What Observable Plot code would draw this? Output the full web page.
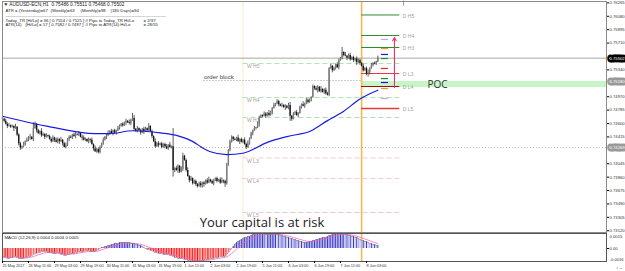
<!DOCTYPE html>
<html><head><meta charset="utf-8">
<script src="https://cdn.jsdelivr.net/npm/d3@7"></script>
<script src="https://cdn.jsdelivr.net/npm/@observablehq/plot@0.6"></script>
<style>
html,body{margin:0;padding:0;background:#fff;}
#wrap{position:relative;width:625px;height:271px;overflow:hidden;background:#fff;}
#main{position:absolute;left:0;top:0;}
#macd{position:absolute;left:0;top:232px;}
#risk{position:absolute;left:0;width:524px;text-align:center;top:213.5px;line-height:16px;font-family:"Open Sans",sans-serif;font-size:13px;color:#1a1a1a;white-space:nowrap;}
</style></head>
<body><div id="wrap"><div id="main"></div><div id="macd"></div><div id="risk">Your capital is at risk</div></div>
<script>
// ---------- DATA ----------
const firstOpenPips = 7468;
const closePips = [
7466,7463,7459,7456,7457,7455,7456,7453,7455,
7444,7432,7426,7428,
7431,7435,7437,7440,7441,7438,
7453,7459,
7450,7446,7449,7443,7445,7441,7443,7442,
7438,7435,7440,7437,7434,7438,7435,7437,
7432,7427,7430,
7438,7441,7440,7444,7442,7445,7444,7446,7441,
7440,7437,7438,7435,7438,7437,
7431,7425,7421,7424,7420,7427,
7432,7437,7441,7443,7446,
7449,7446,7450,7447,7450,
7453,7456,7459,7457,7461,7463,7461,
7460,7464,7467,
7452,7449,7453,7450,7447,7452,7449,7453,7450,7456,7449,
7442,7435,7428,7432,
7430,7432,7427,7431,7428,7425,7430,7427,7428,
7395,
7398,7395,7401,7393,7397,
7415,7409,
7395,7387,7381,7384,7377,
7380,7376,7373,7377,7374,7378,7376,7381,7378,7382,7380,7377,7381,7384,7380,7382,7378,7381,7380,
7377,
7402,7423,7434,
7441,7438,
7437,7440,7435,7438,7434,7437,
7431,7427,7432,7439,7446,
7450,7453,7454,7459,
7468,7471,7470,7473,
7470,7474,7471,7475,
7481,7485,7487,7490,
7486,
7484,7485,7482,7484,7481,7485,
7470,7466,
7473,7475,7471,7474,
7482,7486,7484,
7487,7492,7489,7493,7496,
7511,
7508,7506,7510,7504,7507,7503,7506,7501,
7499,
7536,
7539,7533,7536,7541,7537,
7547,7550,
7558,7554,
7553,7550,7554,7548,7551,7547,7549,7544,7547,7543,
7539,7533,7536,7528,7530,
7536,7540,7543,7542,7545,7550];
const wickUpDigits = "2132312141 2213132412 3121421312 2313214123 1221341213 3212131422 2131241312 1321213142 2413121321 3121423121 2314121321 3212413122 1231213412 2121341231 3212141213 2412131321 1321421312 2131213412 2312141321 1213214123 2131213213 1412312132 2131241312 13";
const wickDnDigits = "1213121412 3121212313 1312213121 2131241312 2312131214 1213413121 2121312132 3121214123 1312131412 2131213121 3121213142 1312131213 2131412121 3121213121 2131214121 3121312141 2131213121 3121412131 2131213121 3121412132 1213121312 2131213241 3121213121 21";
const spikeHighBars = [19, 47, 80, 90, 105, 111, 169, 209];
const spikeHighPips = [7461, 7449, 7474, 7460, 7453, 7419, 7493, 7565];
const spikeLowBars  = [11, 38, 59, 105, 123, 137, 150, 177, 225];
const spikeLowPips  = [7423, 7426, 7418, 7386, 7371, 7372, 7426, 7463, 7524];

const maBars = [0,19,28,57,66,80,89,97,108,118,122,128,138,148,163,175,190,200,210,220,231];
const maPips = [7470,7460,7456,7446,7446,7450,7449,7447,7443,7434,7428,7421,7417,7419,7434,7442,7450,7464,7477,7494,7506];

const macdHist = [
-8,-9,-9,-10,-10,-9,-9,-8,-8,-9,-10,-10,
-10,-10,-9,-9,-8,-8,-7,-6,-5,
-5,-4,-4,-3,-3,-3,-3,-4,-4,-4,-5,-5,-5,-4,
-5,-6,-6,-7,-7,-6,-6,-5,-5,-5,-4,-4,-3,-3,
-3,-3,-2,-2,-2,-3,-3,-3,-3,-2,-1,
0,1,1,2,2,3,3,4,4,5,5,5,6,6,6,6,6,6,6,5,5,5,4,4,3,3,2,1,0,
-1,-1,-2,-2,-3,-4,-4,-5,-5,-5,-6,-6,-6,-6,-7,-7,
-8,-9,-9,-10,-10,-10,-10,-11,-11,-12,-12,-13,-13,-13,-13,-13,-13,-12,
-12,-12,-11,-11,-11,-10,-10,-10,-9,-9,-9,-8,-8,-8,-8,-6,-4,-2,
0,2,4,6,7,8,9,10,11,11,12,12,13,14,14,15,15,15,15,15,
15,14,14,14,14,14,15,15,14,14,13,13,12,12,11,11,10,10,9,9,
8,8,7,7,6,6,6,6,7,7,8,8,9,9,10,10,11,11,11,12,
13,13,14,14,15,15,15,15,15,15,14,14,13,13,12,12,11,11,10,9,
8,8,7,7,6,5,5,4,4,3,3];

const weekNames  = ["W H5","W H4","W H3","W L3","W L4","W L5"];
const weekLevels = [0.75428,0.74959,0.74683,0.74124,0.73841,0.73372];
const dayNames   = ["D H5","D H4","D H3","D L3","D L4","D L5"];
const dayLevels  = [0.76098,0.75815,0.75649,0.75290,0.75111,0.74807];
const weekStartBar = 148, dayStartBar = 221, levelEndBar = 244.5;

const markLevels = [0.7576,0.75635,0.75553,0.75497,0.7536,0.7522,0.75166,0.75083,0.74945];
const markKinds  = ["p","o","b","g","r","g","b","o","p"];
const arrowFrom = 0.75097, arrowTo = 0.75787, arrowBar = 241.2;
const pocLow = 0.75097, pocHigh = 0.75180;
const orderBlock = 0.75194, orderBlockFrom = 124;
const supportLine = 0.74269;
const bidPrice = 0.75502;

const priceTicks = [0.76265,0.76080,0.75895,0.75710,0.75525,0.75340,0.75155,0.74970,0.74785,0.74600,0.74415,0.74230,0.74045,0.73860,0.73675,0.73490,0.73305,0.73120];
const macdTop = "0.0015", macdZero = "0.00", macdBottom = "-0.0016";
const timeTickBars = [0,16,32,48,64,80,96,112,128,144,160,176,192,208,224];
const timeTickLabels = ["25 May 2017","26 May 11:00","29 May 03:00","29 May 19:00","30 May 11:00","31 May 03:00","31 May 19:00","1 Jun 11:00","2 Jun 03:00","2 Jun 19:00","5 Jun 11:00","6 Jun 03:00","6 Jun 19:00","7 Jun 11:00","8 Jun 03:00"];

// ---------- BUILD ----------
const xMax = 371.7;
const wu = wickUpDigits.replace(/\s/g,""), wd = wickDnDigits.replace(/\s/g,"");
const candles = closePips.map((c,i)=>{
  const o = i===0 ? firstOpenPips : closePips[i-1];
  let h = Math.max(o,c) + (+wu[i] || 1);
  let l = Math.min(o,c) - (+wd[i] || 1);
  const sh = spikeHighBars.indexOf(i); if (sh>=0) h = Math.max(h, spikeHighPips[sh]);
  const sl = spikeLowBars.indexOf(i); if (sl>=0) l = Math.min(l, spikeLowPips[sl]);
  const bodyEnd = Math.abs(c-o) < 1 ? o + 1 : c;
  return {i, o:o/1e4, c:c/1e4, b:bodyEnd/1e4, h:h/1e4, l:l/1e4, up: c>=o};
});
const ma = maBars.map((b,k)=>({i:b, v:maPips[k]/1e4}));
const kindColor = {p:"#c9a3ea", o:"#f0962a", b:"#1414e6", g:"#1f8f1f", r:"#e82222"};

const FONT = "'Liberation Sans', Arial, sans-serif";
const wk = weekNames.map((n,k)=>({n, v:weekLevels[k], hi:n.includes("H")}));
const dy = dayNames.map((n,k)=>({n, v:dayLevels[k], hi:n.includes("H")}));
// right-axis ticks hidden under the price boxes (the platform draws the box over them)
const boxed = [bidPrice, pocHigh, supportLine];
const axisTicks = priceTicks.filter(t => boxed.every(b => Math.abs(t - b) > 0.0004));

const main = Plot.plot({
  width: 625, height: 233,
  marginLeft: 2, marginRight: 19, marginTop: 1, marginBottom: 1,
  x: {domain: [0, xMax], axis: null},
  y: {domain: [0.73096, 0.76284], axis: null},
  style: {background: "white", fontFamily: FONT, overflow: "visible"},
  marks: [
    Plot.rect([{x1: dayStartBar, x2: xMax, y1: pocLow, y2: pocHigh}], {x1:"x1", x2:"x2", y1:"y1", y2:"y2", fill:"#c8f5c8"}),
    Plot.ruleX([weekStartBar], {stroke:"#f3efc2", strokeWidth:1}),
    Plot.ruleX([dayStartBar], {stroke:"#f7b850", strokeWidth:1.6}),
    Plot.ruleY([bidPrice], {stroke:"#a8a8a8", strokeWidth:1}),
    Plot.ruleY([supportLine], {stroke:"#b8b8b8", strokeDasharray:"1,2"}),
    Plot.ruleY([{v:orderBlock, a:orderBlockFrom, b:dayStartBar}], {y:"v", x1:"a", x2:"b", stroke:"#9a9a9a", strokeDasharray:"1,2"}),
    Plot.text(["order block"], {x: orderBlockFrom, y: orderBlock, dy:-3, textAnchor:"start", fontSize:6, fill:"#444"}),
    // weekly pivots
    Plot.ruleY(wk, {y:"v", x1: weekStartBar, x2: levelEndBar, stroke: d=>d.hi?"#b2e2b2":"#f6caca", strokeDasharray:"5,3"}),
    Plot.text(wk, {x: weekStartBar, y:"v", text:"n", dx:4, dy:3, textAnchor:"start", fontSize:5, fill:"#a0a0a0"}),
    // daily pivots
    Plot.ruleY(dy, {y:"v", x1: dayStartBar, x2: levelEndBar, stroke: d=>d.n==="D L4"?"#b00000":(d.hi?"#2e8b2e":"#ee3535"), strokeWidth: d=>d.n==="D L5"?1.4:1}),
    Plot.text(dy, {x: levelEndBar, y:"v", text:"n", dx:3, dy:1, textAnchor:"start", fontSize:5, fill:"#a0a0a0"}),
    // small level marks
    Plot.ruleY(markLevels.map((v,k)=>({v, k:markKinds[k]})), {y:"v", x1:233.2, x2:237.5, stroke: d=>kindColor[d.k], strokeWidth:1.2, strokeDasharray: d=>d.k==="p"?"1,1":null}),
    Plot.arrow([{x:arrowBar, y1:arrowFrom, y2:arrowTo}], {x1:"x", x2:"x", y1:"y1", y2:"y2", stroke:"#e8336f", strokeWidth:1.1, headLength:5, bend:0}),
    Plot.ruleX([246.8], {y1:0.7622, y2:0.7629, stroke:"#999"}),
    // candles
    Plot.ruleX(candles, {x:"i", y1:"l", y2:"h", stroke:"#2a2a2a", strokeWidth:0.75}),
    Plot.ruleX(candles, {x:"i", y1:"o", y2:"b", stroke: d=>d.up?"#7a7a7a":"#151515", strokeWidth:1.35}),
    // moving average
    Plot.line(ma, {x:"i", y:"v", stroke:"#1a1ae0", strokeWidth:1.2, curve:"monotone-x"}),
    Plot.text(["POC"], {x: 261.5, y: (pocLow+pocHigh)/2, textAnchor:"start", fontSize:10, fill:"#333", fontFamily:"'Open Sans', sans-serif"}),
    Plot.frame({stroke:"#8a8a8a"}),
    Plot.axisY({anchor:"right", ticks: axisTicks, tickFormat: d=>d.toFixed(5), tickSize:2, tickPadding:1, fontSize:4.2, fill:"#333"}),
    Plot.text([bidPrice], {y: d=>d, frameAnchor:"right", dx:3, textAnchor:"start", text: d=>d.toFixed(5), fill:"white", stroke:"#000", strokeWidth:5, fontSize:4.2}),
    Plot.text([pocHigh, supportLine], {y: d=>d, frameAnchor:"right", dx:3, textAnchor:"start", text: d=>d.toFixed(5), fill:"white", stroke:"#999", strokeWidth:5, fontSize:4.2}),
    // header
    Plot.text(["▼ AUDUSD-ECN,H1  0.75486 0.75511 0.75468 0.75502"], {frameAnchor:"top-left", dx:1, dy:3, lineAnchor:"middle", fontSize:4.8, fill:"#222"}),
    Plot.text(["ATR = (Yesterday)=67"], {frameAnchor:"top-left", dx:3, dy:9, lineAnchor:"middle", fontSize:4.3, fill:"#222"}),
    Plot.text(["(Weekly)=63"], {frameAnchor:"top-left", dx:48, dy:9, lineAnchor:"middle", fontSize:4.3, fill:"#222"}),
    Plot.text(["(Monthly)=98"], {frameAnchor:"top-left", dx:78, dy:9, lineAnchor:"middle", fontSize:4.3, fill:"#222"}),
    Plot.text(["(180 Days)=94"], {frameAnchor:"top-left", dx:108, dy:9, lineAnchor:"middle", fontSize:4.3, fill:"#222"}),
    Plot.text(["-".repeat(112)], {frameAnchor:"top-left", dx:3, dy:14, lineAnchor:"middle", fontSize:4.3, fill:"#222"}),
    Plot.text(["Today_TR [Hi/Lo] = 36 [ 0.7554 / 0.7525 ]"], {frameAnchor:"top-left", dx:3, dy:19, lineAnchor:"middle", fontSize:4.3, fill:"#222"}),
    Plot.text(["// Pips to Today_TR Hi/Lo"], {frameAnchor:"top-left", dx:83, dy:19, lineAnchor:"middle", fontSize:4.3, fill:"#222"}),
    Plot.text(["= 2/37"], {frameAnchor:"top-left", dx:141, dy:19, lineAnchor:"middle", fontSize:4.3, fill:"#222"}),
    Plot.text(["ATR(14)"], {frameAnchor:"top-left", dx:3, dy:23.5, lineAnchor:"middle", fontSize:4.3, fill:"#222"}),
    Plot.text(["[Hi/Lo] = 57 [ 0.7582 / 0.7497 ]"], {frameAnchor:"top-left", dx:23, dy:23.5, lineAnchor:"middle", fontSize:4.3, fill:"#222"}),
    Plot.text(["// Pips to ATR(14) Hi/Lo"], {frameAnchor:"top-left", dx:83, dy:23.5, lineAnchor:"middle", fontSize:4.3, fill:"#222"}),
    Plot.text(["= 28/55"], {frameAnchor:"top-left", dx:141, dy:23.5, lineAnchor:"middle", fontSize:4.3, fill:"#222"})
  ]
});
document.getElementById("main").appendChild(main);

// MACD panel
const alpha = 2/(9+1);
let s = macdHist[0];
const macd = macdHist.map((v,i)=>{
  s = i===0 ? v : s + alpha*(v - s);
  const prev = i===0 ? v : macdHist[i-1];
  return {i, v: v/1e4, sig: s/1e4, col: v>=0 ? (v>=prev?"#3a3ac4":"#aeaef0") : (v<=prev?"#ff1010":"#ff5a5a")};
});
const macdPlot = Plot.plot({
  width: 625, height: 39,
  marginLeft: 2, marginRight: 19, marginTop: 1, marginBottom: 10,
  x: {domain: [0, xMax], axis: null},
  y: {domain: [-0.0013, 0.0015], axis: null},
  style: {background: "transparent", fontFamily: FONT, overflow: "visible"},
  marks: [
    Plot.ruleX([weekStartBar], {stroke:"#f3efc2", strokeWidth:1}),
    Plot.ruleX([dayStartBar], {stroke:"#f7b850", strokeWidth:1.6}),
    Plot.ruleX(macd, {x:"i", y1:0, y2:"v", stroke:"col", strokeWidth:1, clip:true}),
    Plot.line(macd, {x:"i", y:"sig", stroke:"#ff5cc8", strokeWidth:0.8, clip:true}),
    Plot.line(macd, {x:"i", y:"v", stroke:"#8a8a8a", strokeWidth:0.8, clip:true}),
    Plot.text(["MACD (12,26,9) 0.0004 0.0004 0.0005"], {frameAnchor:"top-left", dx:2, dy:2.5, lineAnchor:"top", fontSize:4.3, fill:"#222"}),
    Plot.frame({stroke:"#555"}),
    Plot.axisY({anchor:"right", ticks:[0], tickFormat: () => macdZero, tickSize:2, tickPadding:1, fontSize:4.2, fill:"#333"}),
    Plot.text([macdTop], {frameAnchor:"top-right", dx:3, dy:1.5, textAnchor:"start", lineAnchor:"top", fontSize:4.2, fill:"#333"}),
    Plot.text([macdBottom], {frameAnchor:"bottom-right", dx:3, dy:-1, textAnchor:"start", lineAnchor:"bottom", fontSize:4.2, fill:"#333"}),
    Plot.axisX({ticks: timeTickBars, tickFormat: (d,k)=>timeTickLabels[k], tickSize:2, tickPadding:1, fontSize:3.8, textAnchor:"start", fill:"#333"})
  ]
});
document.getElementById("macd").appendChild(macdPlot);
</script>
</body></html>
